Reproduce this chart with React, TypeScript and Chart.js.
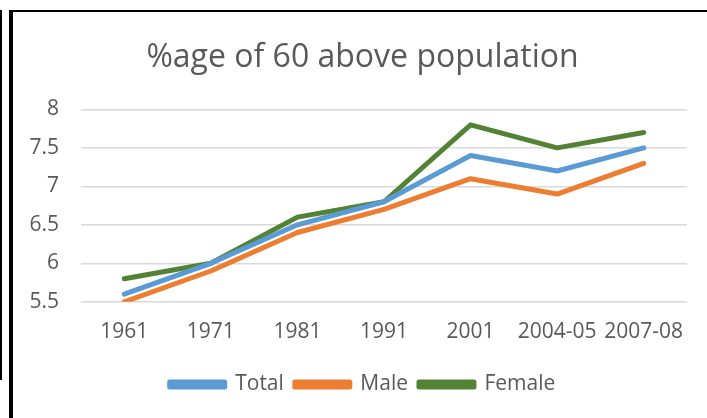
import React, { useEffect, useRef } from "react";
import { Chart, registerables } from "chart.js";

Chart.register(...registerables);

const categories = ["1961", "1971", "1981", "1991", "2001", "2004-05", "2007-08"];
const totalValues = [5.6, 6.0, 6.5, 6.8, 7.4, 7.2, 7.5];
const maleValues = [5.5, 5.9, 6.4, 6.7, 7.1, 6.9, 7.3];
const femaleValues = [5.8, 6.0, 6.6, 6.8, 7.8, 7.5, 7.7];
const titleText = "%age of 60 above population";

const FONT = "'Open Sans', 'Noto Sans', sans-serif";
const TEXT = "#595959";
const CANVAS_W = 725;

export default function App() {
  const ref = useRef<HTMLCanvasElement>(null);
  useEffect(() => {
    if (!ref.current) return;
    const chart = new Chart(ref.current, {
      type: "line",
      data: {
        labels: categories,
        datasets: [
          { label: "Total", data: totalValues, borderColor: "#5B9BD5", backgroundColor: "#5B9BD5", borderWidth: 5, pointRadius: 0, tension: 0, borderCapStyle: "round", borderJoinStyle: "round" },
          { label: "Male", data: maleValues, borderColor: "#ED7D31", backgroundColor: "#ED7D31", borderWidth: 5, pointRadius: 0, tension: 0, borderCapStyle: "round", borderJoinStyle: "round" },
          { label: "Female", data: femaleValues, borderColor: "#548235", backgroundColor: "#548235", borderWidth: 5, pointRadius: 0, tension: 0, borderCapStyle: "round", borderJoinStyle: "round" },
        ],
      },
      options: {
        animation: false,
        responsive: false,
        maintainAspectRatio: false,
        layout: { padding: { left: 0, right: 0, top: 0, bottom: 13 } },
        plugins: {
          title: {
            display: true,
            text: titleText,
            color: TEXT,
            font: { family: FONT, size: 32, weight: "normal" },
            padding: { top: 39, bottom: 32 },
          },
          legend: {
            position: "bottom",
            labels: {
              color: TEXT,
              font: { family: FONT, size: 21 },
              boxWidth: 55,
              boxHeight: 5,
              padding: 11,
            },
          },
          tooltip: { enabled: false },
        },
        scales: {
          x: {
            offset: true,
            grid: { display: false, drawTicks: false },
            border: { display: false },
            ticks: { color: TEXT, font: { family: FONT, size: 21 }, padding: 18, maxRotation: 0, autoSkip: false },
          },
          y: {
            min: 5.5,
            max: 8,
            afterFit: (s: any) => { s.width = 81; },
            grid: { color: "#d9d9d9", lineWidth: 1.5, drawTicks: false },
            border: { display: false },
            ticks: { stepSize: 0.5, color: TEXT, font: { family: FONT, size: 21 }, padding: 22, callback: (v: any) => String(v) },
          },
          yRightSpacer: {
            type: "linear",
            position: "right",
            grid: { display: false, drawTicks: false },
            border: { display: false },
            ticks: { display: false },
            afterFit: (s: any) => { s.width = CANVAS_W - 687; },
          },
        },
      },
    });
    return () => chart.destroy();
  }, []);
  return (
    <div style={{ position: "fixed", left: 0, top: 0, width: 707, height: 418, background: "#fff", overflow: "hidden" }}>
      <canvas ref={ref} width={CANVAS_W} height={418} style={{ position: "absolute", left: 0, top: 0 }} />
      <div style={{ position: "absolute", left: 0, top: 10, width: 2, height: 370, background: "#000" }} />
      <div style={{ position: "absolute", left: 9, top: 10, width: 700, height: 2, background: "#000" }} />
      <div style={{ position: "absolute", left: 9, top: 10, width: 4, height: 410, background: "#000" }} />
    </div>
  );
}
